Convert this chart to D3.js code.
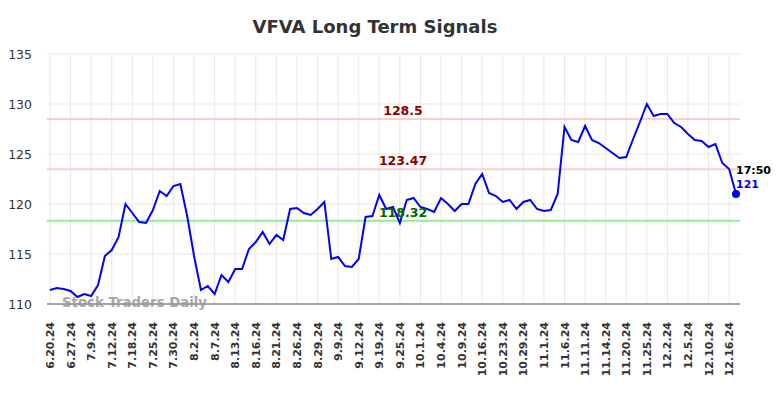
<!DOCTYPE html>
<html lang="en">
<head>
<meta charset="UTF-8">
<title>VFVA Long Term Signals</title>
<script src="https://cdn.jsdelivr.net/npm/d3@7"></script>
<style>
  body { margin: 0; background: #fff; }
  text { font-family: "DejaVu Sans", sans-serif; }
</style>
</head>
<body>
<script>
// closing prices, one per trading day
var prices = [
  111.4, 111.6, 111.5, 111.3, 110.7, 111.0, 110.8, 111.9, 114.8, 115.4,
  116.7, 120.0, 119.1, 118.2, 118.1, 119.4, 121.3, 120.8, 121.8, 122.0,
  118.8, 114.8, 111.4, 111.8, 111.0, 112.9, 112.2, 113.5, 113.5, 115.5,
  116.2, 117.2, 116.0, 116.9, 116.4, 119.5, 119.6, 119.1, 118.9, 119.5,
  120.2, 114.5, 114.7, 113.8, 113.7, 114.5, 118.7, 118.8, 120.9, 119.5,
  119.7, 118.1, 120.4, 120.6, 119.7, 119.5, 119.2, 120.6, 120.0, 119.3,
  120.0, 120.0, 122.0, 123.0, 121.1, 120.8, 120.2, 120.4, 119.5, 120.2,
  120.4, 119.5, 119.3, 119.4, 121.0, 127.7, 126.4, 126.2, 127.8, 126.4,
  126.1, 125.6, 125.1, 124.6, 124.7, 126.5, 128.2, 130.0, 128.8, 129.0,
  129.0, 128.1, 127.7, 127.0, 126.4, 126.3, 125.7, 126.0, 124.1, 123.5,
  121.0
];

// one label every third point
var tickLabels = [
  "6.20.24", "6.27.24", "7.9.24", "7.12.24", "7.18.24", "7.25.24", "7.30.24",
  "8.2.24", "8.7.24", "8.13.24", "8.16.24", "8.21.24", "8.26.24", "8.29.24",
  "9.9.24", "9.12.24", "9.19.24", "9.25.24", "10.1.24", "10.4.24", "10.9.24",
  "10.16.24", "10.23.24", "10.29.24", "11.1.24", "11.6.24", "11.11.24",
  "11.14.24", "11.20.24", "11.25.24", "12.2.24", "12.5.24", "12.10.24", "12.16.24"
];
var tickStep = 3;

var yTicks = [110, 115, 120, 125, 130, 135];

var levels = [
  { value: 128.5, label: "128.5", line: "#ffcccc", text: "#8b0000" },
  { value: 123.47, label: "123.47", line: "#ffcccc", text: "#8b0000" },
  { value: 118.32, label: "118.32", line: "#90ee90", text: "#006400" }
];

var lastTime = "17:50";
var lastLabel = "121";

var w = 784, h = 398;
var plotLeft = 47, plotRight = 740, plotTop = 54, plotBottom = 304;

var svg = d3.select("body").append("svg")
  .attr("width", w)
  .attr("height", h);

var x = d3.scaleLinear()
  .domain([0, prices.length - 1])
  .range([50, 736]);

var y = d3.scaleLinear()
  .domain([110, 135])
  .range([plotBottom, plotTop]);

// grid
svg.selectAll("line.hgrid")
  .data(yTicks)
  .enter()
  .append("line")
  .attr("class", "hgrid")
  .attr("x1", plotLeft).attr("x2", plotRight)
  .attr("y1", function(d) { return y(d) })
  .attr("y2", function(d) { return y(d) })
  .attr("stroke", "#e8e8e8")
  .attr("stroke-width", 1);

svg.selectAll("line.vgrid")
  .data(tickLabels)
  .enter()
  .append("line")
  .attr("class", "vgrid")
  .attr("x1", function(d, i) { return x(i * tickStep) })
  .attr("x2", function(d, i) { return x(i * tickStep) })
  .attr("y1", plotTop).attr("y2", plotBottom)
  .attr("stroke", "#e8e8e8")
  .attr("stroke-width", 1);

// y labels
svg.selectAll("text.ylab")
  .data(yTicks)
  .enter()
  .append("text")
  .attr("class", "ylab")
  .attr("x", 32)
  .attr("y", function(d) { return y(d) + 4.5 })
  .attr("text-anchor", "end")
  .attr("font-size", 12.5)
  .attr("fill", "#333")
  .text(function(d) { return d });

// x labels
svg.selectAll("text.xlab")
  .data(tickLabels)
  .enter()
  .append("text")
  .attr("class", "xlab")
  .attr("transform", function(d, i) {
    return "translate(" + (x(i * tickStep) + 4) + "," + 322 + ") rotate(-90)";
  })
  .attr("text-anchor", "end")
  .attr("font-size", 11)
  .attr("font-weight", "bold")
  .attr("fill", "#333")
  .text(function(d) { return d });

// signal levels
svg.selectAll("line.level")
  .data(levels)
  .enter()
  .append("line")
  .attr("class", "level")
  .attr("x1", plotLeft).attr("x2", plotRight)
  .attr("y1", function(d) { return y(d.value) })
  .attr("y2", function(d) { return y(d.value) })
  .attr("stroke", function(d) { return d.line })
  .attr("stroke-width", 2);

// bottom axis line
svg.append("line")
  .attr("x1", plotLeft).attr("x2", plotRight)
  .attr("y1", plotBottom).attr("y2", plotBottom)
  .attr("stroke", "#555")
  .attr("stroke-width", 1.2);

// watermark
svg.append("text")
  .attr("x", 62)
  .attr("y", 307)
  .attr("font-size", 13.3)
  .attr("font-weight", "bold")
  .attr("fill", "#999")
  .attr("opacity", 0.85)
  .text("Stock Traders Daily");

// price line
var line = d3.line()
  .x(function(d, i) { return x(i) })
  .y(function(d) { return y(d) });

svg.append("path")
  .datum(prices)
  .attr("d", line)
  .attr("fill", "none")
  .attr("stroke", "#0000ff")
  .attr("stroke-width", 2);

svg.selectAll("text.level")
  .data(levels)
  .enter()
  .append("text")
  .attr("class", "level")
  .attr("x", 403)
  .attr("y", function(d) { return y(d.value) - 4 })
  .attr("text-anchor", "middle")
  .attr("font-size", 12.5)
  .attr("font-weight", "bold")
  .attr("fill", function(d) { return d.text })
  .text(function(d) { return d.label });

// last point
var lastI = prices.length - 1;
svg.append("circle")
  .attr("cx", x(lastI))
  .attr("cy", y(prices[lastI]))
  .attr("r", 4)
  .attr("fill", "#0000ff");

svg.append("text")
  .attr("x", x(lastI))
  .attr("y", 174)
  .attr("font-size", 11)
  .attr("font-weight", "bold")
  .attr("fill", "#000")
  .text(lastTime);

svg.append("text")
  .attr("x", x(lastI))
  .attr("y", 188)
  .attr("font-size", 11)
  .attr("font-weight", "bold")
  .attr("fill", "#0000ff")
  .text(lastLabel);

// title
svg.append("text")
  .attr("x", 375)
  .attr("y", 33)
  .attr("text-anchor", "middle")
  .attr("font-size", 18)
  .attr("font-weight", "bold")
  .attr("fill", "#333")
  .text("VFVA Long Term Signals");
</script>
</body>
</html>
